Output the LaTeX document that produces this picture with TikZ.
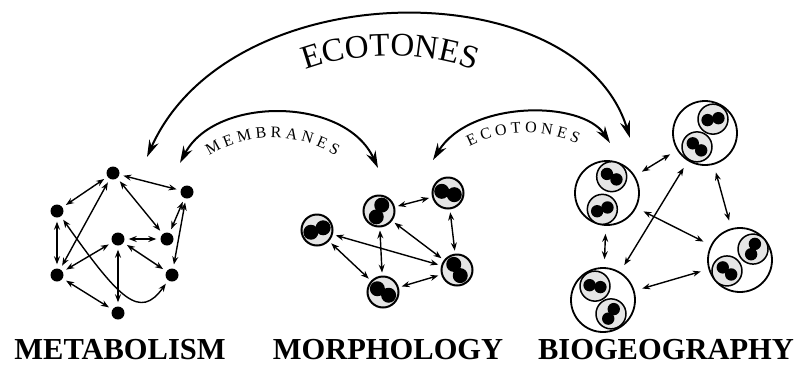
\documentclass[tikz,border=0pt]{standalone}
\usepackage{fontspec}
\setmainfont{Liberation Serif}
\usepackage{tikz}
\usetikzlibrary{arrows.meta,calc,decorations.text}

\tikzset{
  dot/.style={circle,fill=black,minimum size=13pt,inner sep=0pt},
  cell/.style={circle,draw,line width=2pt,fill=gray!20,minimum size=31pt,inner sep=0pt},
  ring/.style={circle,draw,line width=1.8pt,fill=white,minimum size=64pt,inner sep=0pt},
  link/.style={{Stealth[length=8pt,width=6pt]}-{Stealth[length=8pt,width=6pt]},line width=1.4pt},
  bigarc/.style={{Stealth[length=17pt,width=10pt]}-{Stealth[length=17pt,width=10pt]},line width=2pt},
  title/.style={anchor=base,inner sep=0pt,font=\fontsize{30.5}{30.5}\selectfont\bfseries},
}

% two black blobs inside a cell
\newcommand{\blobs}[4]{%
  \fill ($(#1)+(#2:#3)$) circle (#4);
  \fill ($(#1)+(#2+180:#3)$) circle (#4);
}
% small cell inside a ring
\newcommand{\subcell}[4]{%
  \coordinate (tmp) at ($(#1)+(#2:#3)$);
  \draw[line width=1.5pt,fill=gray!20] (tmp) circle (15);
  \blobs{tmp}{#4}{5.5}{6.2}
}

\begin{document}
\begin{tikzpicture}[x=1pt,y=-1pt]
  \useasboundingbox (0,0) rectangle (801,365);

  % metabolism
  \node[dot] (a) at (113,173) {};
  \node[dot] (b) at (187,192) {};
  \node[dot] (c) at (57,211) {};
  \node[dot] (d) at (118,239) {};
  \node[dot] (e) at (167,239) {};
  \node[dot] (f) at (57,275) {};
  \node[dot] (g) at (172,275) {};
  \node[dot] (h) at (118,313) {};
  \draw[link,shorten <=4pt,shorten >=4pt] (a) -- (c);
  \draw[link,shorten <=4pt,shorten >=4pt] (a) -- (b);
  \draw[link,shorten <=4pt,shorten >=4pt] (a) -- (e);
  \draw[link,shorten <=4pt,shorten >=4pt] (a) -- (f);
  \draw[link,shorten <=4pt,shorten >=4pt] (c) -- (f);
  \draw[link,shorten <=4pt,shorten >=4pt] (b) -- (e);
  \draw[link,shorten <=4pt,shorten >=4pt] (b) -- (g);
  \draw[link,shorten <=4pt,shorten >=4pt] (d) -- (e);
  \draw[link,shorten <=4pt,shorten >=4pt] (d) -- (f);
  \draw[link,shorten <=4pt,shorten >=4pt] (d) -- (g);
  \draw[link,shorten <=4pt,shorten >=4pt] (d) -- (h);
  \draw[link,shorten <=4pt,shorten >=4pt] (f) -- (h);
  \draw[link,shorten <=4pt,shorten >=4pt] (c) .. controls (120,300) and (140,320) .. (g);

  % morphology
  \node[cell] (m1) at (317,230) {};
  \node[cell] (m2) at (379,211) {};
  \node[cell] (m3) at (448,193) {};
  \node[cell] (m4) at (383,292) {};
  \node[cell] (m5) at (457,270) {};
  \blobs{m1}{-20}{6.5}{7.5}
  \blobs{m2}{-65}{6.5}{7.5}
  \blobs{m3}{15}{6.5}{7.5}
  \blobs{m4}{30}{6.5}{7.5}
  \blobs{m5}{60}{6.5}{7.5}
  \draw[link,shorten <=3pt,shorten >=3pt] (m2) -- (m3);
  \draw[link,shorten <=3pt,shorten >=3pt] (m3) -- (m5);
  \draw[link,shorten <=3pt,shorten >=3pt] (m2) -- (m4);
  \draw[link,shorten <=3pt,shorten >=3pt] (m2) -- (m5);
  \draw[link,shorten <=3pt,shorten >=3pt] (m1) -- (m5);
  \draw[link,shorten <=3pt,shorten >=3pt] (m1) -- (m4);
  \draw[link,shorten <=3pt,shorten >=3pt] (m4) -- (m5);

  % biogeography
  \node[ring] (b1) at (607,193) {};
  \node[ring] (b2) at (705,133) {};
  \node[ring] (b3) at (603,300) {};
  \node[ring] (b4) at (740,260) {};
  \subcell{b1}{-74}{17}{-150}
  \subcell{b1}{106}{17}{-20}
  \subcell{b2}{-60}{16}{170}
  \subcell{b2}{120}{16}{-140}
  \subcell{b3}{-120}{16}{10}
  \subcell{b3}{60}{16}{-60}
  \subcell{b4}{-40}{17}{-70}
  \subcell{b4}{140}{17}{-140}
  \draw[link,shorten <=8pt,shorten >=8pt] (b1) -- (b2);
  \draw[link,shorten <=8pt,shorten >=8pt] (b2) -- (b4);
  \draw[link,shorten <=8pt,shorten >=8pt] (b1) -- (b3);
  \draw[link,shorten <=8pt,shorten >=8pt] (b1) -- (b4);
  \draw[link,shorten <=8pt,shorten >=8pt] (b3) -- (b2);
  \draw[link,shorten <=8pt,shorten >=8pt] (b3) -- (b4);

  % arcs between the levels
  \coordinate (metaR) at (147,157);
  \coordinate (bioL) at (630,138);
  \coordinate (metaS) at (180,163);
  \coordinate (morphL) at (378,168);
  \coordinate (morphR) at (433,160);
  \coordinate (bioS) at (610,143);
  \draw[bigarc] (metaR) .. controls (230,-29) and (578,-29) .. (bioL);
  \draw[bigarc] (metaS) .. controls (215,96) and (345,96) .. (morphL);
  \draw[bigarc] (morphR) .. controls (470,100) and (582,100) .. (bioS);
  \path[decorate,decoration={text along path,text align=center,
    text={|\fontsize{33}{33}\selectfont|ECOTONES}}]
    (296,74) .. controls (350,50) and (430,50) .. (484,74);
  \path[decorate,decoration={text along path,text align=center,
    text={|\fontsize{16}{16}\selectfont|M E M B R A N E S}}]
    (203,160) .. controls (245,130) and (300,130) .. (342,160);
  \path[decorate,decoration={text along path,text align=center,
    text={|\fontsize{16}{16}\selectfont|E C O T O N E S}}]
    (463,150) .. controls (500,128) and (550,128) .. (584,147);

  % titles
  \node[title] (tmeta) at (120,359) {METABOLISM};
  \node[title] (tmorph) at (388,359) {MORPHOLOGY};
  \node[title] (tbio) at (666,359) {BIOGEOGRAPHY};
\end{tikzpicture}
\end{document}
